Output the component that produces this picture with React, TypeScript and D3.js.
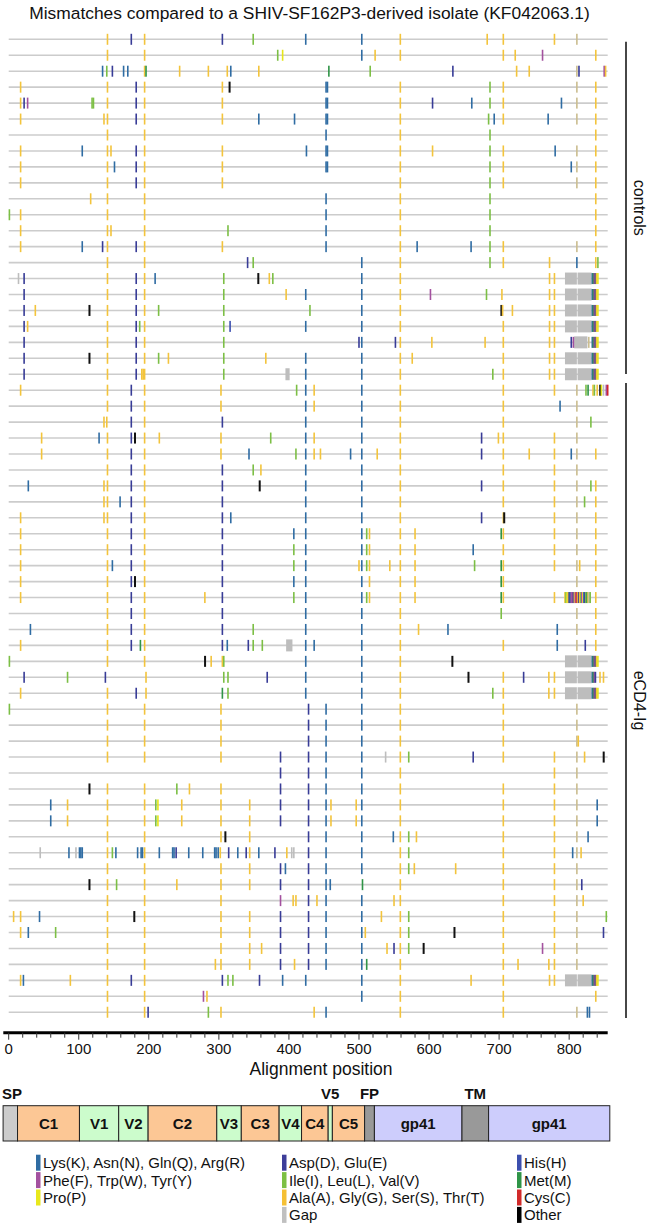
import React from 'react';
import * as d3 from 'd3';

// mismatch rows: code + alignment position, ranges are gaps (G a-b)
const controlsRows = [
  'Y141 D175 Y194 D305 I349 K424 K504 Y559 Y683 Y706 Y779 T811',
  'Y141 Y194 I384 P391 K504 Y523 Y559 Y706 Y723 F762 Y838',
  'K134 I140 D148 K164 K170 Y194 M196 Y244 Y285 Y312 K317 Y357 M457 I516 D634 Y725 Y743 T811 D814 F850 Y852',
  'Y17 Y141 D182 Y194 Y305 O315 K453 K455 Y559 I687 Y706 T811 Y838',
  'Y17 D22 F27 I119 I121 Y141 D182 Y194 Y305 K453 K455 Y559 D605 K661 I687 Y706 K789 T811 Y838',
  'Y17 Y136 Y141 D182 Y194 Y305 K357 K408 K453 K455 Y559 I685 K693 Y706 K770 T811 Y838',
  'Y141 Y194 K453 Y559 I687 Y838',
  'Y17 K105 Y141 Y146 D182 Y194 Y305 K425 K453 K455 Y559 Y605 I687 Y706 K780 T811 Y838',
  'Y17 Y141 K151 D182 Y194 Y305 K453 K455 Y559 I687 Y706 K803 T811 Y838',
  'Y17 Y141 D182 Y194 Y305 Y559 I687 Y706 T811 Y838',
  'Y117 Y141 Y194 K453 Y559 I687 Y838',
  'I1 Y17 Y141 Y194 K453 Y559 I687 Y838',
  'Y17 Y141 Y146 Y194 I313 K453 Y559 I687 Y838',
  'Y17 K105 D134 Y141 D182 Y194 Y305 K453 Y559 K583 K660 I687 Y706 T811 Y838',
  'Y141 Y194 D341 I349 K504 Y559 I687 Y706 Y772 K811 Y838 I841',
  'G14 D22 Y141 D182 Y194 K209 I307 O356 Y372 I377 K504 Y559 Y772 Y779 G794-811 G812-832 K833 M834.5 F836 D837.5 Y839 P841',
  'D22 Y141 D182 Y194 I307 Y396 K424 K504 Y559 F602 I682 Y704 Y772 Y779 G794-811 G812-832 K833 M834.5 F836 D837.5 Y839 P841',
  'D22 Y38 O115 Y141 D182 Y194 I214 I307 I430 K504 Y559 O703 Y705 Y719 Y772 Y779 G794-811 G812-832 K833 M834.5 F836 D837.5 Y839 P841',
  'D22 Y27 Y141 D182 I187 Y194 I307 H316 K424 K504 Y559 Y706 Y772 Y779 G794-811 G812-832 K833 M834.5 F836 D837.5 Y839 P841',
  'D22 Y141 D182 Y194 I307 D500 K504 D552 Y559 Y604 Y680 Y706 Y772 Y779 D803 F806 G807-826 T828 K833 M834.5 F836 D837.5 Y839 P841',
  'D22 O115 Y141 D182 Y194 I214 Y228 I307 Y367 K424 K504 Y559 Y576 Y706 Y772 Y779 G794-811 G812-832 K833 M834.5 F836 D837.5 Y839 P841',
  'D22 Y141 D182 Y190 Y192 Y194 I307 G395-401 K424 K504 Y559 I691 Y706 Y772 Y779 G794-811 G812-832 K833 M834.5 F836 D837.5 Y839 P841',
];

const ecd4Rows = [
  'Y17 Y141 D175 Y194 Y303 I411 K424 Y436 K504 Y559 Y706 Y779 T811 I824 M827 Y834 I836 Y840 O844 P846 G849 F853 C855',
  'Y141 D175 Y194 Y303 K424 Y436 K504 Y559 Y706 K787 T811',
  'Y136 Y140 D175 Y194 D305 K424 K504 Y559 Y706 T811 I831',
  'Y47 K129 Y141 D175 O180 Y194 Y215 Y303 I374 K424 Y436 K504 Y559 D675 Y699 Y706 Y779 T811',
  'Y47 Y141 D175 Y194 Y303 K343 I410 K424 Y436 Y445 K488 K504 Y526 Y559 D675 Y706 Y743 Y779 K803 T811 Y838',
  'Y141 D175 Y194 D305 I349 Y360 K424 K504 Y559 Y706 Y779 T811',
  'K28 Y136 Y141 D175 Y194 D305 O358 K424 K504 Y559 D675 Y706 Y779 T811 I831 Y838',
  'Y136 Y141 K159 D175 Y194 D305 K424 K504 Y559 Y706 Y779 T811 I822 Y838',
  'Y17 Y136 Y141 D175 Y194 D305 K317 K424 K504 Y559 D675 Y706 O707 Y779 T811 Y838',
  'Y17 Y141 D175 Y194 D305 K407 K424 K504 I511 Y515 Y559 Y580 M703 Y706 Y779 T811 Y838',
  'Y17 Y141 D175 Y194 D305 I407 K424 K504 I511 Y515 Y559 Y580 K663 Y706 Y779 T811 Y838',
  'Y17 Y141 K148 D175 Y194 D305 I407 K424 Y500 K504 I511 Y515 Y544 Y559 Y580 I665 M703 Y706 Y779 T811 Y815 Y838',
  'Y17 Y141 D175 O180 Y194 D305 K407 K424 K504 Y515 Y559 Y580 M703 Y706 T811 Y838',
  'Y17 Y141 D175 Y194 Y280 D305 I407 K424 K504 I511 Y515 Y559 Y580 M703 Y706 Y779 Y794 I795.5 P797 Y798.5 D800 K801.5 F803 F804.5 D806 Y807.5 F809 C810.5 Y812 D813.5 Y815 I816.5 F818 Y819.5 K821 D822.5 I824 M825.5 Y827 G828.5 I830 Y838',
  'Y141 D175 Y194 D305 K424 K504 Y559 I703 T811 Y838',
  'K31 Y141 D175 Y194 D305 I349 K424 K504 Y559 Y585 K627 K783 T811 Y838',
  'Y17 Y141 D175 M188 Y194 D305 K312 D342 I349 I362 G396-405 K424 K436 K504 Y559 Y706 K783 T811 D823 Y838',
  'I1 Y141 Y194 O280 Y289 Y305 I307 K424 K504 Y559 O633 G794-811 G812-832 K833 M834.5 F836 D837.5 Y839 P841',
  'D22 I84 D138 Y196 I307 I313 D369 K424 K504 Y559 O656 Y706 D735 Y771 Y779 G794-811 G812-832 K833 M834.5 F836 D837.5 Y844 Y849',
  'Y17 Y141 D182 Y196 M305 I313 K424 K504 Y559 I691 Y706 Y771 Y779 G794-811 G812-832 K833 M834.5 F836 D837.5 Y839 P841',
  'I1 Y141 Y194 Y303 D428 K453 K504 Y559 Y706 T811',
  'Y141 Y194 Y303 D428 K453 K504 Y559 Y706 T811',
  'Y141 Y194 Y303 D428 K453 K504 Y559 Y706 T811 Y813',
  'Y141 Y194 Y303 D388 D428 K453 K504 G538 Y559 I571 D663 Y706 Y779 T811 Y822 O849',
  'D388 D428 K453 K504 Y559 Y779 T811',
  'O115 Y141 Y194 I240 Y258 Y303 D388 D428 K453 K504 Y559 Y706 Y779 T811',
  'K60 Y84 Y141 Y194 I210 P213 Y247 Y303 Y344 D388 D428 K453 Y460 Y496 K504 Y559 Y706 Y779 T811 K840',
  'K60 Y84 Y141 Y194 I210 P213 Y247 Y303 Y344 D388 D428 K453 Y460 Y496 K504 Y559 Y706 Y779 T811 K840',
  'Y141 Y194 Y303 O309 Y344 D428 K453 K504 K549 Y559 I571 Y582 Y706 Y779 T811 K827',
  'G45 K86 G96 K101 K103 K105 Y141 I148 K153 K184 K189 K191 Y194 K215 K234 K236 D239 K257 K277 K294 K296 K299 Y302 D314 K327 D339 Y344 K357 D380 Y397 G404 G407 D428 K453 K504 Y559 I571 Y706 Y779 K805 T811 Y817',
  'Y141 Y194 Y303 Y344 D388 K395 D428 K453 K504 Y559 I571 Y579 Y638 Y706 Y779 T811',
  'O115 Y141 I154 Y194 Y240 Y303 Y344 D388 D428 K453 K459 M505 Y559 Y706 Y779 T811 D818',
  'Y141 Y194 Y303 F388 Y406 Y410 D428 Y440 K453 K504 Y550 Y559 Y706 Y779 T811 Y820',
  'Y7 Y17 K44 Y141 O179 Y194 Y303 Y344 D388 D428 K453 K504 Y532 Y559 I571 Y706 Y779 T811 I853',
  'Y17 K28 I67 Y141 Y194 Y303 Y344 D388 D428 K453 K504 Y509 Y559 I571 O636 Y706 Y779 T811 D849',
  'Y141 Y194 Y303 Y344 Y361 D388 D428 K453 K504 Y540 D550 Y559 I571 O592 Y706 F762 Y779 T811',
  'Y141 Y194 Y295 Y303 Y344 D388 Y408 D428 K453 K504 M511 Y559 Y706 Y727 Y771 Y779 T811',
  'Y17 K21 Y88 Y141 D175 Y194 D305 I313 I320 D358 K391 K424 K504 Y559 Y660 Y706 Y772 Y779 G794-811 G812-832 K833 M834.5 F836 D837.5 Y839 P841',
  'Y141 Y194 F278 Y283 K504 Y559 Y706 Y838',
  'Y141 Y194 D199 I285 Y303 Y436 K453 Y559 Y706 T811 K826 K829',
];

const markColors: Record<string, string> = {
  K: '#2f6ca3', F: '#a3519f', P: '#e6e619', D: '#383c97', I: '#7cbf45', Y: '#f3c43c',
  G: '#bdbdbd', H: '#3b4fb0', M: '#2f9447', C: '#d0252c', O: '#111111', T: '#cbbd8f',
};

// env gene map (alignment units)
const geneNames = ['', 'C1', 'V1', 'V2', 'C2', 'V3', 'C3', 'V4', 'C4', '', 'C5', '', 'gp41', '', 'gp41'];
const geneStarts = [-8, 12.6, 101, 157, 199, 297, 332, 386, 418, 456, 462, 508, 522, 647, 685];
const geneEnds = [12.6, 101, 157, 199, 297, 332, 386, 418, 456, 462, 508, 522, 647, 685, 858];
const geneKinds = ['sp', 'c', 'v', 'v', 'c', 'v', 'c', 'v', 'c', 'v', 'c', 'fp', 'gp', 'tm', 'gp'];
const geneColors: Record<string, string> = { sp: '#cccccc', c: '#fcc795', v: '#ccfccc', fp: '#999999', gp: '#cdcdfc', tm: '#999999' };
const topLabels = ['V5', 'FP', 'TM'];
const topLabelPos = [459, 515, 666];

const legendCol1 = ['Lys(K), Asn(N), Gln(Q), Arg(R)', 'Phe(F), Trp(W), Tyr(Y)', 'Pro(P)'];
const legendCol1Colors = ['#2f6ca3', '#a3519f', '#e8e81c'];
const legendCol2 = ['Asp(D), Glu(E)', 'Ile(I), Leu(L), Val(V)', 'Ala(A), Gly(G), Ser(S), Thr(T)', 'Gap'];
const legendCol2Colors = ['#3d3d99', '#7cc043', '#f5c034', '#c0c0c0'];
const legendCol3 = ['His(H)', 'Met(M)', 'Cys(C)', 'Other'];
const legendCol3Colors = ['#3c4fae', '#2f9447', '#d12a2a', '#000000'];

const FONT = '"Liberation Sans", Arial, sans-serif';

function parseRow(s: string) {
  return s.split(' ').map(tok => {
    const m = tok.match(/^([A-Z])([\d.]+)(?:-([\d.]+))?$/)!;
    return { code: m[1], pos: +m[2], end: m[3] ? +m[3] : null };
  });
}

export default function App() {
  const rows = [...controlsRows, ...ecd4Rows].map(parseRow);
  const x = d3.scaleLinear().domain([0, 855]).range([8.7, 607.7]);
  const y = d3.scalePoint<number>().domain(d3.range(rows.length)).range([39.3, 39.3 + 15.95 * (rows.length - 1)]);

  const axisY = 1032.7;
  const ticks = d3.range(0, 841, 20);
  const geneTop = 1105.7, geneH = 35.3;

  const legendRowY = (i: number) => 1162.7 + i * 17.4;
  const legendCols = [
    { items: legendCol1, colors: legendCol1Colors, x: 36 },
    { items: legendCol2, colors: legendCol2Colors, x: 282 },
    { items: legendCol3, colors: legendCol3Colors, x: 517 },
  ];

  const groupSpans = [
    { label: 'controls', y0: 41.7, y1: 374 },
    { label: 'eCD4-Ig', y0: 383, y1: 1018 },
  ];

  return (
    <svg width={650} height={1225} style={{ position: 'absolute', left: 0, top: 0, background: '#fff' }} fontFamily={FONT}>
      <text x={309.5} y={19} textAnchor="middle" fontSize={17.4} fill="#111">
        Mismatches compared to a SHIV-SF162P3-derived isolate (KF042063.1)
      </text>

      {rows.map((r, i) => (
        <g key={i} transform={`translate(0,${y(i)})`}>
          <line x1={x(0)} x2={x(855)} stroke="#cccccc" strokeWidth={1.6} />
          {r.filter(m => m.end !== null).map((m, j) => (
            <rect key={'g' + j} x={x(m.pos)} y={-6} width={x(m.end as number) - x(m.pos)} height={12} fill={markColors.G} />
          ))}
          {r.filter(m => m.end === null).map((m, j) => (
            <rect key={j} x={x(m.pos) - 0.8} y={-5.5} width={m.code === 'O' ? 2 : 1.6} height={11} fill={markColors[m.code]} />
          ))}
        </g>
      ))}

      {groupSpans.map(g => (
        <g key={g.label}>
          <line x1={626} x2={626} y1={g.y0} y2={g.y1} stroke="#333" strokeWidth={1.8} />
          <text transform={`translate(634,${(g.y0 + g.y1) / 2}) rotate(90)`} textAnchor="middle" fontSize={16} fill="#111">
            {g.label}
          </text>
        </g>
      ))}

      {/* axis */}
      <line x1={3.3} x2={607.7} y1={axisY} y2={axisY} stroke="#000" strokeWidth={3} />
      {ticks.map(t => (
        <line key={t} x1={x(t)} x2={x(t)} y1={axisY} y2={axisY + (t % 100 === 0 ? 7 : 5)} stroke="#333" strokeWidth={1} />
      ))}
      {ticks.filter(t => t % 100 === 0).map(t => (
        <text key={t} x={x(t)} y={1054} textAnchor="middle" fontSize={15} fill="#111">{t}</text>
      ))}
      <text x={321} y={1075} textAnchor="middle" fontSize={17.5} fill="#111">Alignment position</text>

      {/* gene map */}
      {geneStarts.map((s, i) => (
        <g key={i}>
          <rect x={x(s)} y={geneTop} width={x(geneEnds[i]) - x(s)} height={geneH}
            fill={geneColors[geneKinds[i]]} stroke="#222" strokeWidth={1} />
          {geneNames[i] && (
            <text x={(x(s) + x(geneEnds[i])) / 2} y={geneTop + geneH / 2 + 5.5} textAnchor="middle"
              fontSize={15} fontWeight="bold" fill="#111">{geneNames[i]}</text>
          )}
        </g>
      ))}
      <text x={2} y={1098.5} fontSize={15} fontWeight="bold" fill="#111">SP</text>
      {topLabels.map((l, i) => (
        <text key={l} x={x(topLabelPos[i])} y={1098.5} textAnchor="middle" fontSize={15} fontWeight="bold" fill="#111">{l}</text>
      ))}

      {/* legend */}
      {legendCols.map((c, ci) => (
        <g key={ci}>
          {c.items.map((t, i) => (
            <g key={t}>
              <rect x={c.x} y={legendRowY(i) - 8} width={4.5} height={16} fill={c.colors[i]} />
              <text x={c.x + 7} y={legendRowY(i) + 5.5} fontSize={15} fill="#111">{t}</text>
            </g>
          ))}
        </g>
      ))}
    </svg>
  );
}
